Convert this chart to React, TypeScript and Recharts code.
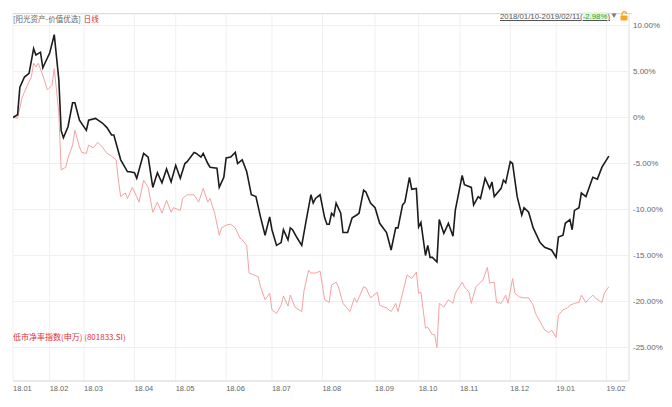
import React from 'react';
import { LineChart, Line, XAxis, YAxis, CartesianGrid } from 'recharts';

// Trading-day offsets (from 2018/01/10) where each month starts, and their labels
const monthTickDays = [0, 16, 31, 53, 71, 93, 113, 135, 158, 177, 195, 217, 237, 259];
const monthTickLabels = ['18.01', '18.02', '18.03', '18.04', '18.05', '18.06', '18.07', '18.08', '18.09', '18.10', '18.11', '18.12', '19.01', '19.02'];
const pctTicks = [10, 5, 0, -5, -10, -15, -20, -25];

// 阳光资产-价值优选: cumulative return (%) by trading day
const portfolioDays = [
  0, 2, 3, 5, 7, 9, 10, 12, 13, 16,
  18, 20, 21, 22, 24, 26, 27, 29, 32, 33,
  36, 39, 41, 43, 44, 47, 50, 51, 53, 54,
  57, 59, 61, 63, 65, 67, 69, 71, 73, 75,
  76, 79, 80, 82, 83, 85, 86, 89, 90, 92,
  93, 95, 97, 98, 100, 102, 104, 106, 108, 110,
  112, 113, 115, 117, 118, 120, 121, 122, 124, 126,
  128, 130, 131, 132, 134, 136, 137, 138, 139, 140,
  141, 143, 144, 146, 148, 150, 151, 153, 154, 156,
  158, 160, 163, 165, 167, 168, 170, 171, 173, 174,
  176, 177, 178, 180, 181, 182, 183, 185, 186, 188,
  190, 192, 193, 196, 197, 200, 201, 203, 204, 206,
  208, 209, 210, 213, 214, 215, 217, 218, 220, 222,
  223, 225, 227, 230, 232, 235, 237, 238, 240, 241,
  243, 244, 245, 247, 248, 250, 251, 253, 255, 257,
  260,
];
const portfolioPct = [
  0, 0.3, 3.3, 4.4, 4.8, 7.5, 6.8, 7.1, 5.4, 7.0,
  9.0, 4.1, -1.4, -2.2, -1.0, 1.6, 1.6, -0.3, -1.4, -0.3,
  -0.1, -0.6, -1.1, -1.9, -1.9, -4.6, -5.9, -5.9, -6.0, -6.6,
  -3.9, -4.3, -7.6, -6.0, -7.1, -5.6, -7.0, -5.2, -6.6, -5.0,
  -4.8, -3.8, -3.9, -4.3, -3.9, -5.0, -5.4, -5.5, -7.6, -6.5,
  -4.4, -4.3, -3.8, -5.0, -4.6, -5.9, -8.4, -8.6, -10.8, -12.8,
  -10.8, -12.2, -13.9, -13.6, -12.2, -13.3, -12.0, -12.2, -13.1, -13.9,
  -11.1, -8.4, -9.3, -8.8, -8.4, -10.9, -11.6, -11.6, -10.4, -10.7,
  -9.3, -10.4, -12.5, -12.5, -10.9, -10.6, -10.4, -7.9, -8.1, -9.3,
  -9.8, -11.5, -12.5, -14.4, -12.0, -12.0, -9.5, -9.2, -6.5, -7.8,
  -7.7, -11.9, -11.4, -15.0, -13.9, -15.2, -15.2, -15.7, -11.1, -12.6,
  -11.5, -12.9, -10.1, -6.3, -7.3, -7.6, -9.5, -8.6, -8.8, -6.6,
  -7.7, -7.0, -8.6, -7.7, -6.8, -7.1, -4.8, -5.0, -8.6, -10.6,
  -9.8, -10.3, -12.0, -13.6, -14.1, -14.4, -15.2, -13.0, -12.8, -11.5,
  -11.1, -12.2, -10.1, -9.8, -8.2, -8.6, -7.9, -6.5, -6.7, -5.4,
  -4.2,
];

// 低市净率指数(申万) (801833.SI): cumulative return (%) by trading day
const indexDays = [
  0, 2, 4, 7, 8, 9, 10, 11, 13, 15,
  17, 18, 20, 21, 23, 24, 26, 27, 29, 30,
  32, 33, 35, 37, 39, 41, 43, 45, 46, 47,
  49, 50, 52, 54, 55, 57, 59, 61, 63, 65,
  67, 69, 70, 73, 74, 76, 79, 81, 83, 85,
  86, 88, 90, 91, 93, 95, 97, 99, 100, 102,
  103, 105, 107, 108, 110, 112, 113, 115, 117, 118,
  120, 121, 123, 126, 127, 129, 130, 132, 134, 136,
  138, 139, 141, 142, 144, 147, 149, 150, 153, 154,
  156, 159, 160, 163, 165, 167, 168, 170, 172, 174,
  176, 177, 178, 180, 181, 183, 184, 185, 186, 188,
  190, 192, 193, 196, 197, 199, 200, 202, 204, 205,
  207, 208, 210, 211, 213, 215, 216, 218, 219, 221,
  223, 225, 227, 228, 230, 232, 234, 235, 237, 238,
  240, 242, 243, 245, 247, 248, 250, 251, 253, 254,
  257, 258, 260,
];
const indexPct = [
  0, -0.1, 2.2, 3.9, 4.4, 5.9, 5.5, 5.9, 4.6, 3.0,
  3.5, 5.3, 0.5, -5.7, -5.4, -4.4, -3.0, -1.4, -3.2, -3.8,
  -3.9, -3.0, -3.3, -2.7, -3.2, -3.9, -4.2, -4.6, -6.8, -8.6,
  -8.2, -8.8, -7.6, -8.6, -9.2, -6.8, -7.6, -10.3, -9.2, -10.4,
  -9.0, -10.3, -9.8, -10.1, -8.8, -8.4, -8.4, -9.2, -7.7, -9.2,
  -8.8, -10.4, -12.8, -12.0, -11.7, -11.6, -12.0, -13.1, -13.3, -13.9,
  -16.9, -17.1, -17.3, -18.4, -19.8, -19.1, -20.9, -21.3, -20.4, -19.4,
  -20.5, -19.3, -20.6, -21.1, -18.8, -16.6, -16.9, -16.9, -16.7, -19.8,
  -20.1, -18.2, -17.9, -18.4, -20.2, -21.1, -19.6, -20.1, -18.4, -18.5,
  -19.6, -19.0, -20.4, -20.7, -21.1, -20.2, -21.1, -19.1, -17.1, -17.5,
  -16.8, -19.1, -19.0, -22.9, -22.8, -23.6, -23.6, -25.0, -20.2, -20.6,
  -19.8, -20.2, -19.1, -17.9, -18.4, -19.0, -20.2, -18.4, -17.9, -17.7,
  -16.3, -18.0, -17.9, -20.1, -20.2, -19.3, -20.2, -17.5, -19.1, -19.5,
  -19.6, -19.6, -20.4, -21.3, -22.2, -23.1, -23.4, -23.1, -23.9, -21.5,
  -20.9, -20.7, -20.4, -20.2, -20.1, -19.3, -20.1, -19.8, -19.3, -19.6,
  -20.1, -19.1, -18.4,
];

const portfolioData = portfolioDays.map((day, i) => ({ day, pct: portfolioPct[i] }));
const indexData = indexDays.map((day, i) => ({ day, pct: indexPct[i] }));

const FONT = '"Liberation Sans", Arial, "Noto Sans CJK SC", sans-serif';
const CJK = '"Noto Sans CJK SC", "Liberation Sans", sans-serif';

const MonthTick = (props: any) => {
  const { x, y, payload } = props;
  const idx = monthTickDays.indexOf(payload.value);
  return (
    <text x={x} y={y + 10} textAnchor="start" fontSize={7.5} fill="#666" fontFamily={FONT}>
      {monthTickLabels[idx]}
    </text>
  );
};

const fmtPct = (v: number) => (v === 0 ? '0%' : `${v.toFixed(2)}%`);

const LockIcon = () => (
  <svg width={9} height={10} viewBox="0 0 9 10" style={{ position: 'absolute', left: 620, top: 11 }}>
    <path d="M2 4.5 V3 A2.3 2.3 0 0 1 6.6 3" fill="none" stroke="#f0a020" strokeWidth={1.2} />
    <rect x={0.5} y={4.5} width={7} height={5} rx={0.8} fill="#f5a623" />
  </svg>
);

export default function App() {
  return (
    <div style={{ position: 'absolute', left: 0, top: 0, width: 672, height: 407, background: '#fff', fontFamily: FONT }}>
      <LineChart width={672} height={407} margin={{ top: 14, right: 0, bottom: 0, left: 13 }}>
        <CartesianGrid stroke="#f0f0f0" strokeWidth={1} />
        <XAxis
          dataKey="day"
          type="number"
          domain={[0, 268.8]}
          ticks={monthTickDays}
          tick={<MonthTick />}
          tickLine={false}
          tickSize={0}
          tickMargin={0}
          axisLine={{ stroke: '#dcdcdc' }}
          height={26}
          allowDataOverflow
        />
        <YAxis
          orientation="right"
          type="number"
          domain={[-28.64, 11.25]}
          ticks={pctTicks}
          tickFormatter={fmtPct}
          tick={{ fontSize: 8, fill: '#666', fontFamily: FONT }}
          tickLine={false}
          tickSize={0}
          tickMargin={4}
          axisLine={{ stroke: '#e6e6e6' }}
          width={43}
          allowDataOverflow
        />
        <Line
          data={indexData}
          dataKey="pct"
          type="linear"
          stroke="#f4a3a3"
          strokeWidth={1}
          dot={false}
          isAnimationActive={false}
        />
        <Line
          data={portfolioData}
          dataKey="pct"
          type="linear"
          stroke="#1c1c1c"
          strokeWidth={1.6}
          dot={false}
          isAnimationActive={false}
        />
      </LineChart>

      {/* frame line above the plot */}
      <div style={{ position: 'absolute', left: 13, top: 13, width: 619, height: 1, background: '#dcdcdc' }} />

      {/* title row */}
      <div style={{ position: 'absolute', left: 13, top: 13, fontSize: 7.5, lineHeight: '11px', fontFamily: CJK, whiteSpace: 'nowrap' }}>
        <span style={{ color: '#666' }}>[阳光资产-价值优选]</span>
        <span style={{ color: '#e03030', marginLeft: 3 }}>日线</span>
      </div>
      <div style={{ position: 'absolute', left: 500, top: 11, fontSize: 7.8, lineHeight: '11px', fontFamily: FONT, whiteSpace: 'nowrap', color: '#555', textDecoration: 'underline' }}>
        2018/01/10-2019/02/11(<span style={{ color: '#22a32a', background: '#e6f5e0' }}>-2.98%</span>)
      </div>
      <div style={{ position: 'absolute', left: 610, top: 10, fontSize: 8, lineHeight: '11px', color: '#777' }}>▼</div>
      <LockIcon />

      {/* index legend */}
      <div style={{ position: 'absolute', left: 13, top: 331, fontSize: 8, lineHeight: '11px', fontFamily: CJK, color: '#e03030', whiteSpace: 'nowrap' }}>
        低市净率指数(申万) (801833.SI)
      </div>
    </div>
  );
}
